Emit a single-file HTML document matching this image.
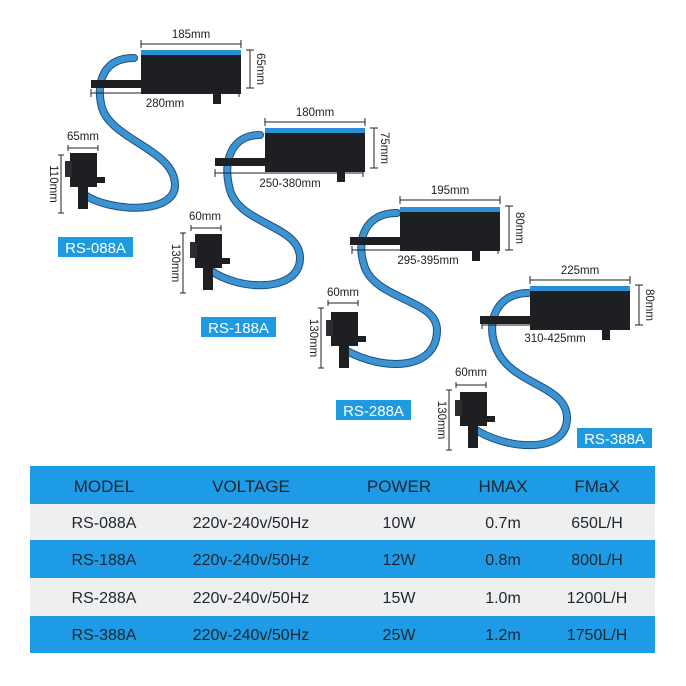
<!DOCTYPE html>
<html><head><meta charset="utf-8"><style>
html,body{margin:0;padding:0;background:#fff;width:686px;height:686px;overflow:hidden;font-family:"Liberation Sans",sans-serif}
svg{position:absolute;left:0;top:0}
.t{font-family:"Liberation Sans",sans-serif;fill:#222;font-size:11.5px}
.lb{font-family:"Liberation Sans",sans-serif;fill:#fff;font-size:15px}
.th{font-family:"Liberation Sans",sans-serif;fill:#1c2630;font-size:17px}
.td{font-family:"Liberation Sans",sans-serif;fill:#1c2630;font-size:16px}
</style></head><body>
<svg width="686" height="686" viewBox="0 0 686 686">
<defs>
<g id="box">
  <rect x="0" y="0" width="100" height="44" fill="#1d1f22"/>
  <rect x="0" y="0" width="100" height="5" fill="#2b8fd6"/>
  <rect x="-50" y="30" width="52" height="8" fill="#1d1f22"/>
  <rect x="72" y="44" width="8" height="10" fill="#1d1f22"/>
</g>
<g id="pump">
  <rect x="5" y="0" width="27" height="34" fill="#1d1f22"/>
  <rect x="0" y="8" width="7" height="16" fill="#2a2c30"/>
  <rect x="30" y="24" width="10" height="6" fill="#1d1f22"/>
  <rect x="13" y="34" width="10" height="22" fill="#1d1f22"/>
</g>
</defs>
<g fill="none" stroke-linecap="round">
  <path id="h1" d="M134,58 C105,58 95,80 102,108 C112,140 175,150 175,185 C175,215 110,212 85,195" stroke="#1e4f7a" stroke-width="8"/>
  <path d="M134,58 C105,58 95,80 102,108 C112,140 175,150 175,185 C175,215 110,212 85,195" stroke="#3b93d1" stroke-width="6"/>
  <path d="M260,135 C232,135 222,160 230,190 C240,225 300,225 300,258 C300,292 240,292 210,270" stroke="#1e4f7a" stroke-width="8"/>
  <path d="M260,135 C232,135 222,160 230,190 C240,225 300,225 300,258 C300,292 240,292 210,270" stroke="#3b93d1" stroke-width="6"/>
  <path d="M397,213 C365,213 355,240 365,268 C378,300 437,300 437,330 C437,370 385,372 345,350" stroke="#1e4f7a" stroke-width="8"/>
  <path d="M397,213 C365,213 355,240 365,268 C378,300 437,300 437,330 C437,370 385,372 345,350" stroke="#3b93d1" stroke-width="6"/>
  <path d="M528,293 C495,293 485,325 497,350 C512,385 567,385 567,418 C567,455 505,450 473,428" stroke="#1e4f7a" stroke-width="8"/>
  <path d="M528,293 C495,293 485,325 497,350 C512,385 567,385 567,418 C567,455 505,450 473,428" stroke="#3b93d1" stroke-width="6"/>
</g>
<use href="#box" x="141" y="50"/>
<use href="#box" x="265" y="128"/>
<use href="#box" x="400" y="207"/>
<use href="#box" x="530" y="286"/>
<use href="#pump" x="65" y="153"/>
<use href="#pump" x="190" y="234"/>
<use href="#pump" x="326" y="312"/>
<use href="#pump" x="455" y="392"/>
<g stroke="#222" stroke-width="1" fill="none">
  <path d="M141,40v8M141,44h100M241,40v8"/>
  <path d="M246,50h8M250,50v38M246,88h8"/>
  <path d="M91,89v8M91,93h148M239,89v8"/>
  <path d="M68,145v6M68,148h30M98,145v6"/>
  <path d="M58,155h6M61,155v58M58,213h6"/>
  <path d="M265,118v8M265,122h100M365,118v8"/>
  <path d="M370,128h8M374,128v40M370,168h8"/>
  <path d="M215,169v8M215,173h148M363,169v8"/>
  <path d="M191,225v6M191,228h30M221,225v6"/>
  <path d="M180,233h6M183,233v60M180,293h6"/>
  <path d="M400,196v8M400,200h100M500,196v8"/>
  <path d="M505,206h8M509,206v44M505,250h8"/>
  <path d="M352,246v8M352,250h146M498,246v8"/>
  <path d="M328,300v6M328,303h30M358,300v6"/>
  <path d="M318,308h6M321,308v60M318,368h6"/>
  <path d="M530,276v8M530,280h100M630,276v8"/>
  <path d="M635,285h8M639,285v40M635,325h8"/>
  <path d="M482,321v8M482,325h146M628,321v8"/>
  <path d="M456,382v6M456,385h30M486,382v6"/>
  <path d="M446,390h6M449,390v60M446,450h6"/>
</g>
<text class="t" x="191" y="38" text-anchor="middle">185mm</text>
<text class="t" x="257" y="69" text-anchor="middle" transform="rotate(90 257 69)">65mm</text>
<text class="t" x="165" y="107" text-anchor="middle">280mm</text>
<text class="t" x="83" y="140" text-anchor="middle">65mm</text>
<text class="t" x="50" y="184" text-anchor="middle" transform="rotate(90 50 184)">110mm</text>
<text class="t" x="315" y="116" text-anchor="middle">180mm</text>
<text class="t" x="381" y="148" text-anchor="middle" transform="rotate(90 381 148)">75mm</text>
<text class="t" x="290" y="187" text-anchor="middle">250-380mm</text>
<text class="t" x="205" y="220" text-anchor="middle">60mm</text>
<text class="t" x="172" y="263" text-anchor="middle" transform="rotate(90 172 263)">130mm</text>
<text class="t" x="450" y="194" text-anchor="middle">195mm</text>
<text class="t" x="516" y="228" text-anchor="middle" transform="rotate(90 516 228)">80mm</text>
<text class="t" x="428" y="264" text-anchor="middle">295-395mm</text>
<text class="t" x="343" y="296" text-anchor="middle">60mm</text>
<text class="t" x="310" y="338" text-anchor="middle" transform="rotate(90 310 338)">130mm</text>
<text class="t" x="580" y="274" text-anchor="middle">225mm</text>
<text class="t" x="646" y="305" text-anchor="middle" transform="rotate(90 646 305)">80mm</text>
<text class="t" x="555" y="342" text-anchor="middle">310-425mm</text>
<text class="t" x="471" y="376" text-anchor="middle">60mm</text>
<text class="t" x="438" y="420" text-anchor="middle" transform="rotate(90 438 420)">130mm</text>
<rect x="58" y="237" width="75" height="20" fill="#1e9ae0"/>
<text class="lb" x="95.5" y="253" text-anchor="middle">RS-088A</text>
<rect x="201" y="317" width="75" height="20" fill="#1e9ae0"/>
<text class="lb" x="238.5" y="333" text-anchor="middle">RS-188A</text>
<rect x="336" y="400" width="75" height="20" fill="#1e9ae0"/>
<text class="lb" x="373.5" y="416" text-anchor="middle">RS-288A</text>
<rect x="577" y="428" width="75" height="20" fill="#1e9ae0"/>
<text class="lb" x="614.5" y="444" text-anchor="middle">RS-388A</text>
<rect x="30" y="466" width="625" height="38" fill="#1e9be6"/>
<rect x="30" y="504" width="625" height="36" fill="#efefef"/>
<rect x="30" y="540" width="625" height="38" fill="#1e9be6"/>
<rect x="30" y="578" width="625" height="38" fill="#efefef"/>
<rect x="30" y="616" width="625" height="37" fill="#1e9be6"/>
<g text-anchor="middle">
<text class="th" x="104" y="492">MODEL</text><text class="th" x="251" y="492">VOLTAGE</text><text class="th" x="399" y="492">POWER</text><text class="th" x="503" y="492">HMAX</text><text class="th" x="597" y="492">FMaX</text>
<text class="td" x="104" y="528">RS-088A</text><text class="td" x="251" y="528">220v-240v/50Hz</text><text class="td" x="399" y="528">10W</text><text class="td" x="503" y="528">0.7m</text><text class="td" x="597" y="528">650L/H</text>
<text class="td" x="104" y="565">RS-188A</text><text class="td" x="251" y="565">220v-240v/50Hz</text><text class="td" x="399" y="565">12W</text><text class="td" x="503" y="565">0.8m</text><text class="td" x="597" y="565">800L/H</text>
<text class="td" x="104" y="603">RS-288A</text><text class="td" x="251" y="603">220v-240v/50Hz</text><text class="td" x="399" y="603">15W</text><text class="td" x="503" y="603">1.0m</text><text class="td" x="597" y="603">1200L/H</text>
<text class="td" x="104" y="640">RS-388A</text><text class="td" x="251" y="640">220v-240v/50Hz</text><text class="td" x="399" y="640">25W</text><text class="td" x="503" y="640">1.2m</text><text class="td" x="597" y="640">1750L/H</text>
</g>
</svg>
</body></html>
